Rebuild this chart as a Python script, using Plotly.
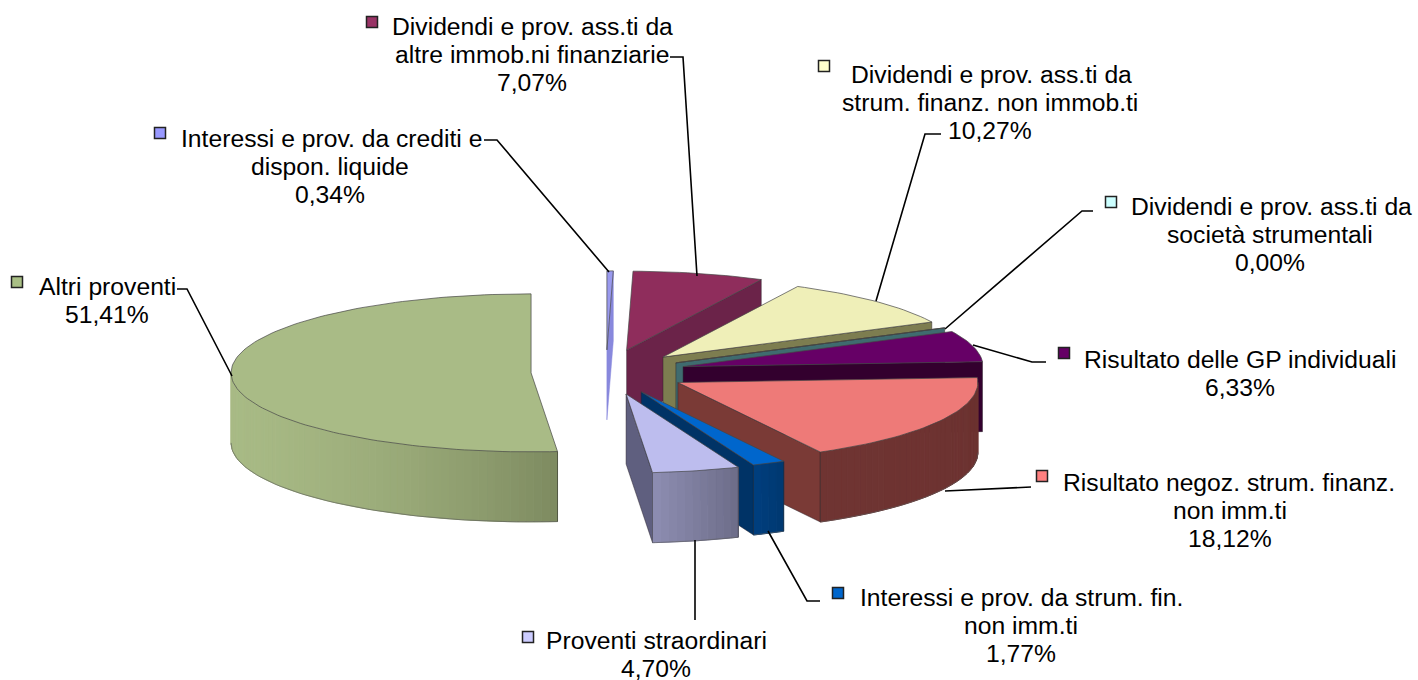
import math
import plotly.graph_objects as go

# ---------- data ----------
categories = [
    "Interessi e prov. da crediti e dispon. liquide",
    "Dividendi e prov. ass.ti da altre immob.ni finanziarie",
    "Dividendi e prov. ass.ti da strum. finanz. non immob.ti",
    "Dividendi e prov. ass.ti da società strumentali",
    "Risultato delle GP individuali",
    "Risultato negoz. strum. finanz. non imm.ti",
    "Interessi e prov. da strum. fin. non imm.ti",
    "Proventi straordinari",
    "Altri proventi",
]
values = [0.34, 7.07, 10.27, 0.00, 6.33, 18.12, 1.77, 4.70, 51.41]
value_labels = ["0,34%", "7,07%", "10,27%", "0,00%", "6,33%", "18,12%", "1,77%", "4,70%", "51,41%"]
label_lines = [
    ["Interessi e prov. da crediti e", "dispon. liquide"],
    ["Dividendi e prov. ass.ti da", "altre immob.ni finanziarie"],
    ["Dividendi e prov. ass.ti da", "strum. finanz. non immob.ti"],
    ["Dividendi e prov. ass.ti da", "società strumentali"],
    ["Risultato delle GP individuali"],
    ["Risultato negoz. strum. finanz.", "non imm.ti"],
    ["Interessi e prov. da strum. fin.", "non imm.ti"],
    ["Proventi straordinari"],
    ["Altri proventi"],
]

# ---------- pie geometry and style ----------
CX, CY, RX, RY, H = 606, 372, 300, 79, 70
pull = [0.28, 0.285, 0.268, 0.26, 0.266, 0.274, 0.276, 0.286, 0.25]
top_col = ["#9999EE", "#8F2D5C", "#EFEFB8", "#5E8C8C", "#660066", "#EE7A78", "#0066CC", "#BDBDEE", "#A9BB86"]
key_col = ["#9999FF", "#993366", "#FFFFCC", "#CCFFFF", "#660066", "#FF8080", "#0066CC", "#CCCCFF", "#A9BF85"]
end_col = ["#8888DD", "#6B2349", "#7D7D50", "#3F6B6F", "#33002E", "#7A3A36", "#003366", "#5F5F7F", "#7D8A60"]
rim_from = ["#8888DD", "#6B2349", "#7D7D50", "#3F6B6F", "#33002E", "#6F3432", "#003F7F", "#8E8EB2", "#A8BA85"]
rim_to = ["#8888DD", "#6B2349", "#7D7D50", "#3F6B6F", "#33002E", "#6C3230", "#003870", "#6C6C88", "#7D8A60"]
end_line = ["rgba(136,136,221,0.5)"] + ["rgba(40,30,40,0.45)"] * 8

# layout of the labels: (x of key, y of key, x centre of first line, x centre of other lines, y first line)
label_pos = [
    (160, 133, 331, 330, 138),
    (372, 22, 532, 532, 26),
    (824, 66, 991, 990, 74),
    (1111, 202, 1271, 1270, 206),
    (1064, 353, 1240, 1240, 359),
    (1042, 476, 1229, 1230, 482),
    (838, 593, 1021, 1021, 597),
    (528, 637, 656, 656, 640),
    (17, 282, 107, 107, 286),
]
leaders = [
    [(484, 140), (497, 140), (609, 272)],
    [(670, 57), (683, 57), (697, 276)],
    [(941, 134), (925, 134), (876, 301)],
    [(1093, 211), (1082, 211), (945, 329)],
    [(1046, 362), (1032, 362), (973, 345)],
    [(1031, 487), (945, 491)],
    [(820, 601), (807, 601), (768, 531)],
    [(695, 620), (695, 540)],
    [(177, 289), (187, 289), (232, 376)],
]
FONT = "Liberation Sans"
FONT_SIZE = 24.7
LINE = 28


def hex2rgb(c):
    return tuple(int(c[i:i + 2], 16) for i in (1, 3, 5))


def mix(a, b, f):
    ra, rb = hex2rgb(a), hex2rgb(b)
    return "rgb(%d,%d,%d)" % tuple(round(x + (y - x) * f) for x, y in zip(ra, rb))


def rim(ax, ay, t):
    r = math.radians(t)
    return ax + RX * math.sin(r), ay - RY * math.cos(r)


def poly(fig, pts, fill, line=None, width=1):
    fig.add_trace(go.Scatter(
        x=[p[0] for p in pts] + [pts[0][0]],
        y=[p[1] for p in pts] + [pts[0][1]],
        mode="lines", fill="toself", fillcolor=fill,
        line=dict(color=line or fill, width=width),
        hoverinfo="skip", showlegend=False,
    ))


fig = go.Figure()
total = sum(values)
start = 0.0
for i, v in enumerate(values):
    sweep = v / total * 360
    end = start + sweep
    mid = math.radians((start + end) / 2)
    ax = CX + pull[i] * RX * math.sin(mid)
    ay = CY - pull[i] * RY * math.cos(mid)

    # wall on the closing edge of the slice
    if end < 180:
        ex, ey = rim(ax, ay, end)
        poly(fig, [(ax, ay), (ex, ey), (ex, ey + H), (ax, ay + H)], end_col[i], end_line[i])

    # outer curved wall, in thin strips so that it can be shaded
    lo, hi = max(start, 90.0), min(end, 270.0)
    if hi > lo:
        n = max(2, int((hi - lo) / 1.5))
        for k in range(n):
            t0 = lo + (hi - lo) * k / n
            t1 = lo + (hi - lo) * (k + 1) / n
            f = (hi - (t0 + t1) / 2) / (hi - lo)
            if i == len(values) - 1:
                f = f ** 2.6
            p0, p1 = rim(ax, ay, t0), rim(ax, ay, t1)
            poly(fig, [p0, p1, (p1[0], p1[1] + H), (p0[0], p0[1] + H)], mix(rim_from[i], rim_to[i], f))
        # silhouette of the wall
        ts = [lo + (hi - lo) * k / 60 for k in range(61)]
        pts = [rim(ax, ay, t) for t in ts]
        fig.add_trace(go.Scatter(
            x=[p[0] for p in pts], y=[p[1] + H for p in pts], mode="lines",
            line=dict(color="rgba(90,90,90,0.6)", width=1), hoverinfo="skip", showlegend=False,
        ))
        for t in (lo, hi):
            if 90 < t < 270:
                px, py = rim(ax, ay, t)
                fig.add_trace(go.Scatter(
                    x=[px, px], y=[py, py + H], mode="lines",
                    line=dict(color="rgba(40,40,40,0.5)", width=1), hoverinfo="skip", showlegend=False,
                ))

    # top surface
    n = max(2, int(sweep / 1.5) + 1)
    arc = [rim(ax, ay, start + sweep * k / n) for k in range(n + 1)]
    poly(fig, [(ax, ay)] + arc, top_col[i], "rgba(70,70,70,0.7)")
    start = end

# leader lines
for seg in leaders:
    fig.add_trace(go.Scatter(
        x=[p[0] for p in seg], y=[p[1] for p in seg], mode="lines",
        line=dict(color="black", width=1.6), hoverinfo="skip", showlegend=False,
    ))

# legend keys
fig.add_trace(go.Scatter(
    x=[p[0] for p in label_pos], y=[p[1] for p in label_pos], mode="markers",
    marker=dict(symbol="square", size=11, color=key_col, line=dict(color="#222222", width=1.5)),
    hoverinfo="skip", showlegend=False,
))

# labels
annotations = []
for lines, val, (kx, ky, x0, x1, y0) in zip(label_lines, value_labels, label_pos):
    for j, text in enumerate(lines + [val]):
        annotations.append(dict(
            x=x0 if j == 0 else x1, y=y0 + j * LINE, xref="x", yref="y",
            text=text, showarrow=False, xanchor="center", yanchor="middle",
            font=dict(family=FONT, size=FONT_SIZE, color="black"),
        ))

fig.update_layout(
    width=1418, height=680,
    margin=dict(l=0, r=0, t=0, b=0),
    paper_bgcolor="white", plot_bgcolor="white",
    xaxis=dict(range=[0, 1418], visible=False, fixedrange=True),
    yaxis=dict(range=[680, 0], visible=False, fixedrange=True),
    annotations=annotations,
    showlegend=False,
)
fig.write_html("out.html", config={"displayModeBar": False},
               post_script="document.body.style.margin='0';document.body.style.overflow='hidden';")
